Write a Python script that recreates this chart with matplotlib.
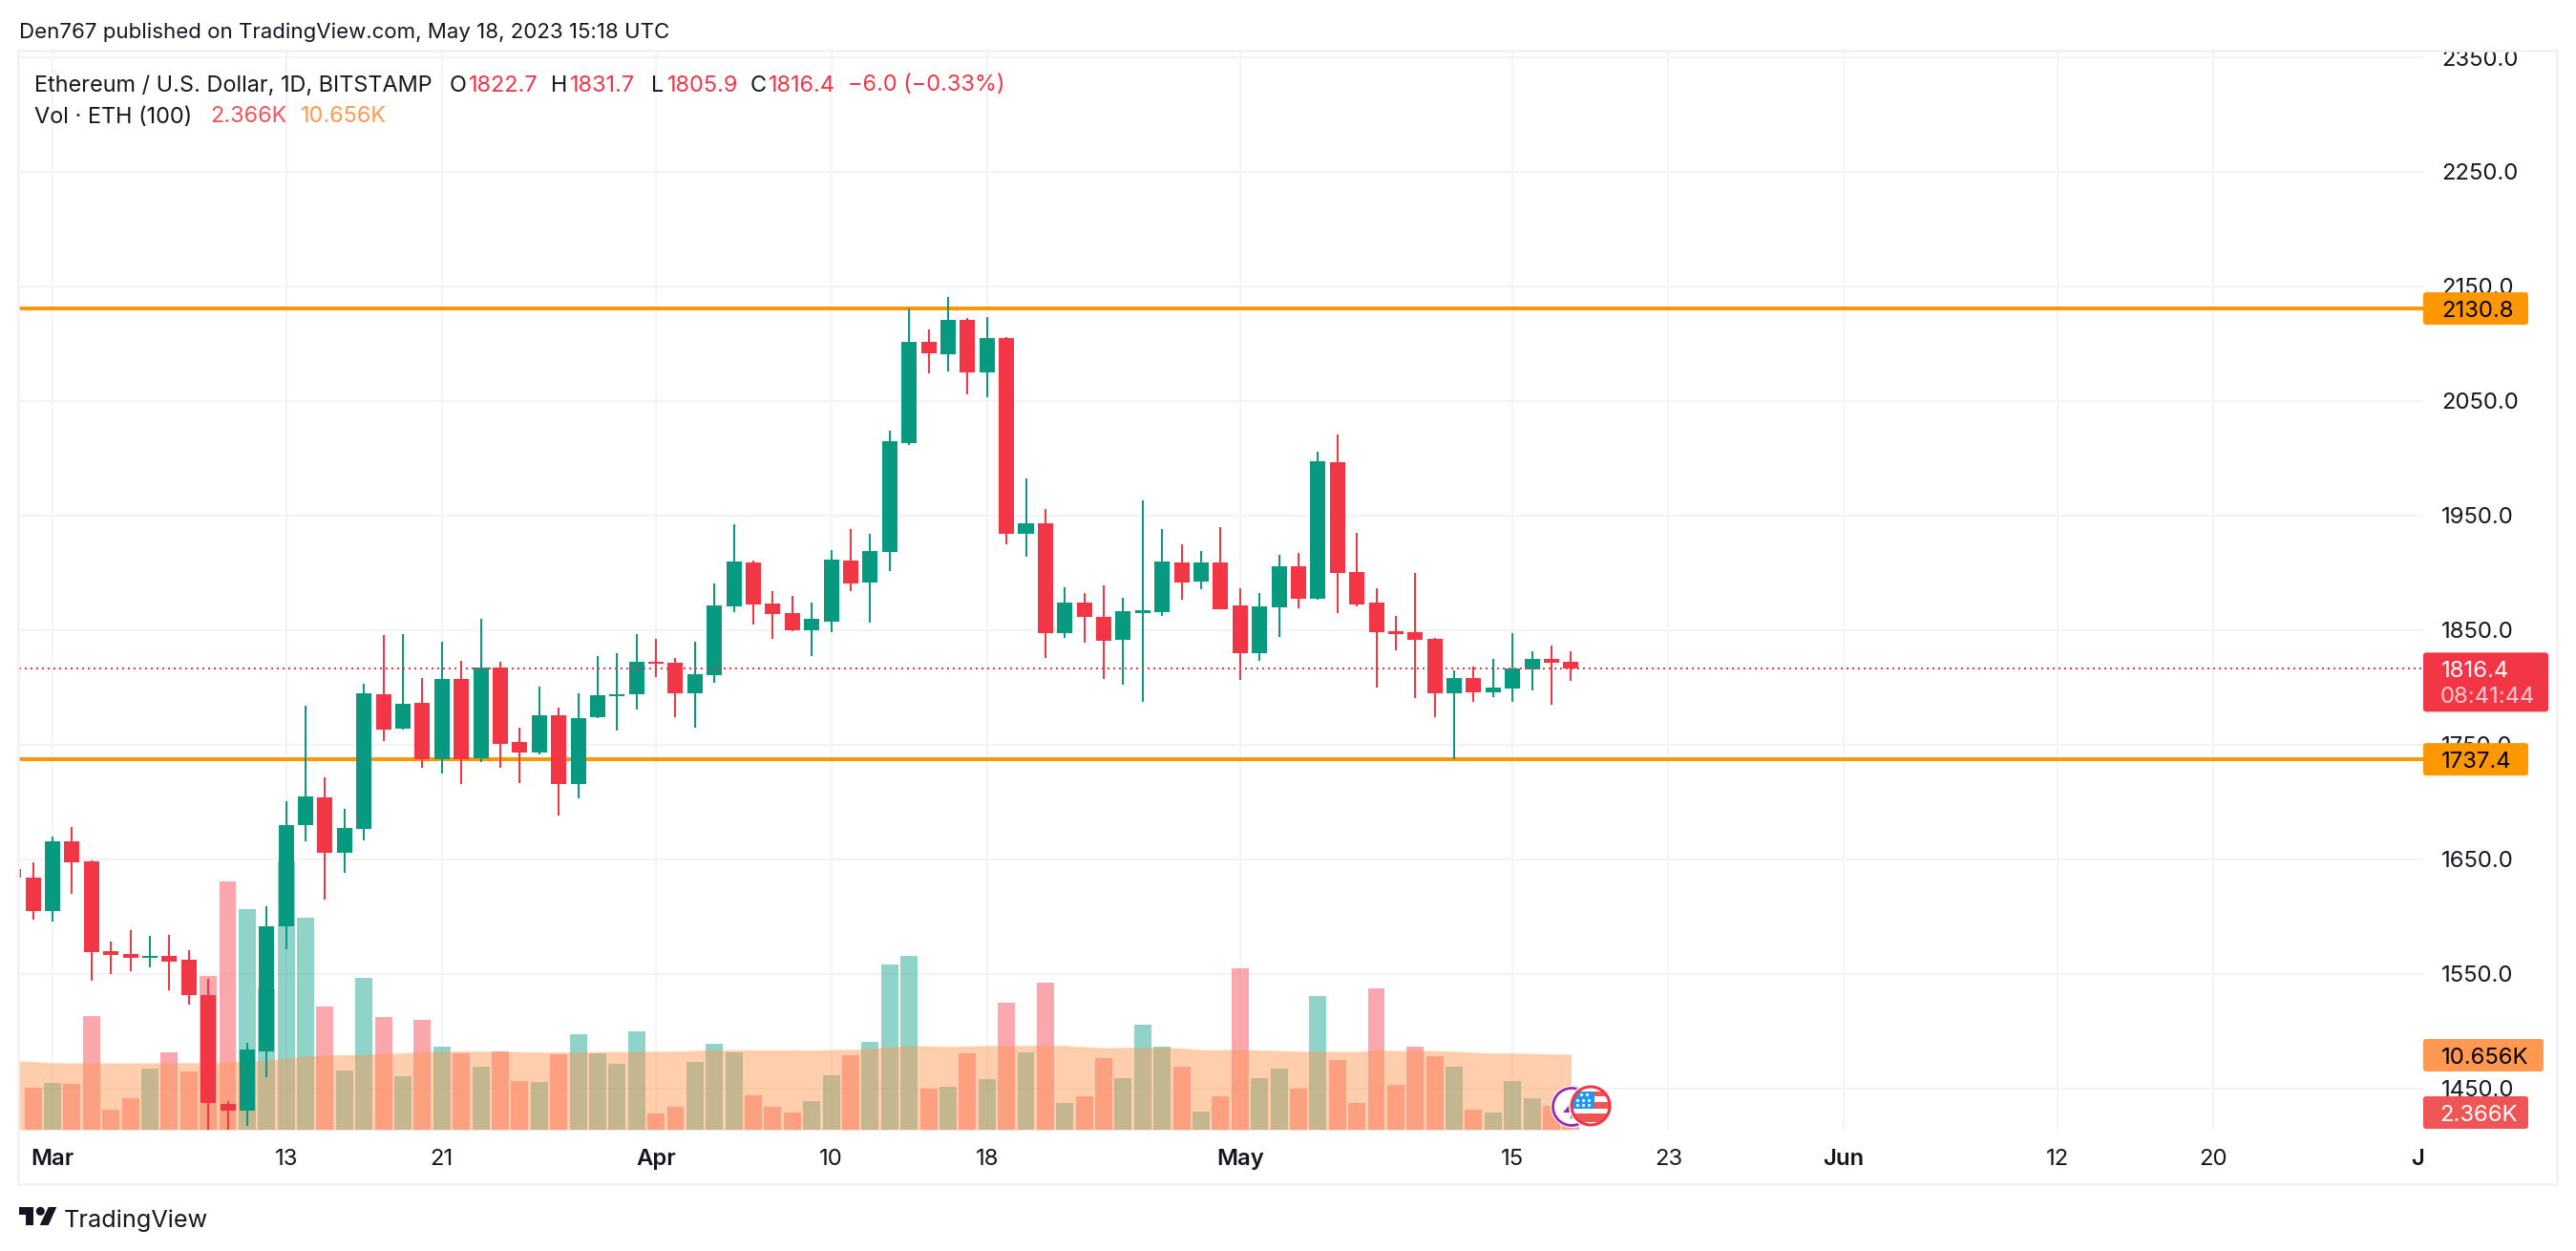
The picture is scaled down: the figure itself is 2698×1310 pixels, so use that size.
import numpy as np
import matplotlib
matplotlib.use("Agg")
import matplotlib.pyplot as plt
from matplotlib.patches import Rectangle, FancyBboxPatch, Circle, Polygon

plt.rcParams["font.family"] = ["Inter", "DejaVu Sans"]

# days since Mar 1 2023
days = np.arange(-2, 79)

opens = [1641.6, 1634.1, 1605.0, 1665.9, 1648.4, 1569.9, 1567.4, 1564.1, 1565.7, 1562.5, 1531.7,
         1436.7, 1430.9, 1482.4, 1591.7, 1679.9, 1704.2, 1655.9, 1676.6, 1794.2, 1764.2, 1786.7,
         1737.5, 1807.5, 1738.3, 1817.5, 1752.5, 1743.3, 1775.8, 1715.8, 1774.2, 1792.5, 1794.2,
         1822.5, 1821.6, 1795.0, 1810.8, 1870.8, 1909.2, 1873.3, 1865.0, 1850.0, 1857.5, 1910.8,
         1891.6, 1918.3, 2013.3, 2101.7, 2090.8, 2120.8, 2075.0, 2105.0, 1934.1, 1943.3, 1847.5,
         1874.1, 1861.6, 1841.6, 1865.3, 1865.8, 1909.1, 1892.5, 1909.1, 1871.6, 1830.0, 1870.0,
         1905.8, 1877.5, 1996.6, 1900.8, 1874.1, 1849.1, 1848.3, 1842.5, 1795.0, 1808.3, 1795.8,
         1799.1, 1815.8, 1825.0, 1822.7]
closes = [1634.1, 1605.0, 1665.9, 1647.4, 1569.3, 1566.7, 1564.1, 1565.7, 1560.9, 1531.7, 1437.4,
          1430.9, 1484.0, 1591.7, 1679.9, 1705.1, 1655.9, 1677.6, 1794.9, 1763.3, 1785.8, 1737.5,
          1807.5, 1737.5, 1817.5, 1750.8, 1743.3, 1775.8, 1715.8, 1773.3, 1793.3, 1794.2, 1822.5,
          1820.8, 1795.0, 1811.7, 1871.7, 1910.0, 1872.5, 1864.2, 1850.0, 1860.0, 1911.7, 1890.8,
          1919.1, 2015.0, 2101.7, 2091.7, 2120.8, 2075.0, 2105.0, 1934.1, 1943.3, 1847.5, 1874.1,
          1861.6, 1840.8, 1866.6, 1867.5, 1910.0, 1891.6, 1909.1, 1868.3, 1830.0, 1870.8, 1905.8,
          1877.5, 1997.5, 1900.0, 1872.5, 1848.3, 1846.6, 1841.6, 1795.0, 1808.3, 1795.8, 1800.0,
          1816.6, 1825.0, 1821.6, 1816.4]
highs = [1641.6, 1647.4, 1670.1, 1678.2, 1649.0, 1578.4, 1588.4, 1583.2, 1584.2, 1570.9, 1545.9,
         1439.3, 1489.9, 1609.2, 1700.9, 1784.2, 1721.7, 1694.1, 1803.4, 1845.8, 1846.7, 1808.3,
         1840.0, 1823.3, 1860.0, 1822.5, 1765.0, 1800.8, 1782.5, 1795.0, 1827.5, 1830.0, 1846.7,
         1842.5, 1825.8, 1840.0, 1890.8, 1942.5, 1910.8, 1884.2, 1880.0, 1874.2, 1920.0, 1938.3,
         1934.1, 2024.2, 2130.8, 2112.5, 2140.8, 2122.5, 2123.3, 2105.8, 1982.5, 1955.8, 1887.5,
         1882.5, 1889.1, 1878.3, 1963.3, 1938.3, 1925.0, 1919.1, 1940.0, 1886.6, 1882.5, 1915.8,
         1917.5, 2005.8, 2020.8, 1935.0, 1886.6, 1862.5, 1900.0, 1843.3, 1815.0, 1818.3, 1825.0,
         1847.5, 1831.6, 1836.6, 1831.7]
lows = [1634.1, 1597.5, 1595.9, 1619.9, 1544.0, 1549.8, 1552.4, 1555.7, 1535.9, 1523.3, 1413.7,
        1413.7, 1417.6, 1460.0, 1571.9, 1665.9, 1615.0, 1638.4, 1666.6, 1753.3, 1763.3, 1730.1,
        1724.9, 1715.8, 1734.6, 1730.1, 1716.8, 1741.7, 1688.3, 1703.2, 1773.3, 1762.5, 1780.8,
        1809.2, 1774.2, 1765.0, 1804.2, 1865.8, 1855.0, 1842.5, 1849.2, 1827.5, 1848.3, 1884.2,
        1856.6, 1901.6, 2011.7, 2074.2, 2075.8, 2055.8, 2053.3, 1925.0, 1914.2, 1825.8, 1843.3,
        1839.1, 1807.5, 1802.5, 1787.8, 1862.5, 1876.6, 1885.8, 1868.3, 1806.7, 1823.3, 1844.1,
        1869.1, 1876.6, 1865.0, 1870.8, 1800.0, 1832.5, 1790.8, 1774.1, 1737.4, 1787.5, 1791.6,
        1787.5, 1797.5, 1785.0, 1805.9]

# volume in thousands of ETH, the first bar is off the chart
volume = [np.nan, 6.08, 6.72, 6.61, 16.31, 2.88, 4.53, 8.79, 11.14, 8.37, 22.07,
          35.66, 31.66, 20.31, 38.54, 30.43, 17.70, 8.53, 21.80, 16.20, 7.68, 15.78,
          11.94, 10.98, 9.06, 11.25, 7.04, 6.88, 10.87, 13.75, 10.98, 9.49, 14.12,
          2.35, 3.30, 9.75, 12.37, 11.14, 4.96, 3.30, 2.51, 4.11, 7.81, 10.69,
          12.60, 23.70, 24.94, 5.89, 6.17, 10.96, 7.26, 18.22, 11.10, 21.05, 3.79,
          4.75, 10.23, 7.35, 15.03, 11.87, 9.00, 2.56, 4.75, 23.11, 7.35, 8.72,
          5.85, 19.14, 9.96, 3.79, 20.23, 6.39, 11.87, 10.50, 9.00, 2.83, 2.42,
          6.94, 4.48, 3.38, 2.366]
volume_ma = [9.70, 9.65, 9.45, 9.42, 9.42, 9.42, 9.42, 9.42, 9.43, 9.45, 9.45,
             9.55, 9.70, 9.85, 10.10, 10.40, 10.55, 10.60, 10.65, 10.75, 10.85, 11.05,
             11.10, 11.15, 11.10, 11.10, 11.05, 11.00, 10.95, 11.00, 11.05, 11.05, 11.05,
             11.10, 11.10, 11.20, 11.30, 11.30, 11.30, 11.30, 11.30, 11.25, 11.35, 11.35,
             11.50, 11.75, 11.90, 11.85, 11.80, 11.85, 11.90, 11.95, 11.95, 11.97, 11.92,
             11.74, 11.60, 11.65, 11.65, 11.65, 11.55, 11.33, 11.33, 11.37, 11.28, 11.19,
             11.10, 11.10, 11.05, 11.05, 11.28, 11.19, 11.19, 11.19, 11.10, 10.96, 10.82,
             10.82, 10.78, 10.69, 10.656]

price_ticks = [1450, 1550, 1650, 1750, 1850, 1950, 2050, 2150, 2250, 2350]
grid_days = [0, 12, 20, 31, 40, 48, 61, 75, 83, 92, 103, 111]
tick_days = grid_days + [121.5]
tick_labels = ["Mar", "13", "21", "Apr", "10", "18", "May", "15", "23", "Jun", "12", "20", "J"]
months = ["Mar", "Apr", "May", "Jun", "J"]
support = 1737.4
resistance = 2130.8
last_price = 1816.4

RED = "#F23645"
GREEN = "#089981"
ORANGE = "#FF9800"
TEXT = "#131722"
GRID = "#F3F3F3"
BORDER = "#F0F0F6"

W, H = 2698, 1310
left, right, top, bottom = 20, 2538, 53, 1183


def price_y(p):
    return 540 + (1950 - p) * 1.2


fig = plt.figure(figsize=(W / 100, H / 100), dpi=100, facecolor="white")
rect = [left / W, 1 - bottom / H, (right - left) / W, (bottom - top) / H]

ax = fig.add_axes(rect)
ax.set_xlim((left - 55) / 20.39, (right - 55) / 20.39)
ax.set_ylim(1950 - (bottom - 540) / 1.2, 1950 + (540 - top) / 1.2)

# volume sits behind the candles on its own scale
ax_vol = ax.twinx()
ax_vol.set_ylim(0, (bottom - top) * 0.137)
ax_vol.set_zorder(1)
ax.set_zorder(2)
ax.patch.set_visible(False)
ax_vol.patch.set_visible(True)
ax_vol.patch.set_facecolor("white")
ax_vol.tick_params(right=False, labelright=False)

for spine in list(ax.spines.values()) + list(ax_vol.spines.values()):
    spine.set_visible(False)

ax_vol.vlines(grid_days, 0, 1, transform=ax_vol.get_xaxis_transform(), color=GRID, lw=1.44, zorder=0)
ax_vol.hlines(price_ticks, 0, 1, transform=ax.get_yaxis_transform(), color=GRID, lw=1.44, zorder=0)

opens, closes, highs, lows = map(np.array, (opens, closes, highs, lows))
up = closes >= opens
colors = np.where(up, GREEN, RED)

vol_colors = np.where(up, "#22AB94", "#F7525F")
ax_vol.bar(days, volume, width=0.88, color=vol_colors, alpha=0.5, zorder=1)
ax_vol.fill_between(days, 0, volume_ma, color="#FF9850", alpha=0.47, lw=0, zorder=2)
ax_vol.plot(days, volume_ma, color="#FF9850", alpha=0.35, lw=1.4, zorder=3)

ax.axhline(resistance, color=ORANGE, lw=2.88, zorder=1)
ax.axhline(support, color=ORANGE, lw=2.88, zorder=1)
ax.vlines(days, lows, highs, colors=colors, lw=1.44, zorder=2)
ax.bar(days, closes - opens, bottom=opens, width=0.785, color=colors, lw=0, zorder=2.2)
ax.axhline(last_price, color=RED, lw=1.44, ls=(0, (1, 2)), dash_capstyle="butt", zorder=2.4)

ax.yaxis.tick_right()
ax.set_yticks(price_ticks)
ax.set_yticklabels([f"{p:.1f}" for p in price_ticks], color=TEXT, fontsize=17.2)
ax.tick_params(axis="y", length=0, pad=13.7)
ax.set_xticks(tick_days)
ax.set_xticklabels(tick_labels, color=TEXT, fontsize=17.2)
ax.tick_params(axis="x", length=0, pad=14.6)
for lab in ax.get_xticklabels():
    if lab.get_text() in months:
        lab.set_fontweight("semibold")

# overlay in pixel coordinates for the tags, frame, header and logo
ov = fig.add_axes([0, 0, 1, 1], zorder=5)
ov.set_xlim(0, W)
ov.set_ylim(H, 0)
ov.axis("off")
ov.add_patch(Rectangle((0, 0), W, top, color="white", lw=0, zorder=1))
ov.add_patch(Rectangle((19, top), 2678 - 19, 1240 - top, fill=False, ec=BORDER, lw=1.8, zorder=2))


def tag(y0, y1, x1, color, label, text_color, x_text=2557):
    ov.add_patch(FancyBboxPatch((right, y0), x1 - right, y1 - y0, boxstyle="round,pad=0,rounding_size=3",
                                fc=color, ec="none", zorder=3))
    ov.text(x_text, (y0 + y1) / 2, label, color=text_color, fontsize=17.2, va="center_baseline", ha="left", zorder=4)


yr = price_y(resistance)
ys = price_y(support)
yl = price_y(last_price)
tag(yr - 17, yr + 17, 2648, ORANGE, f"{resistance:.1f}", "#000000")
tag(ys - 17, ys + 17, 2648, ORANGE, f"{support:.1f}", "#000000")
tag(yl - 17, yl + 45, 2669, RED, "", "white")
ov.text(2557, yl, f"{last_price:.1f}", color="white", fontsize=17.2, va="center_baseline", zorder=4)
ov.text(2556, yl + 27.5, "08:41:44", color="#FFC9CE", fontsize=17.2, va="center_baseline", zorder=4)
tag(1088, 1122, 2664, "#FF9850", "10.656K", "#000000")
tag(1148, 1182, 2648, "#F05555", "2.366K", "white", x_text=2555)

# header
ov.text(20, 32, "Den767 published on TradingView.com, May 18, 2023 15:18 UTC", color=TEXT, fontsize=16.0,
        va="center_baseline", zorder=4)
legend_parts = [
    (36.5, "Ethereum / U.S. Dollar, 1D, BITSTAMP", TEXT), (471, "O", TEXT), (491, "1822.7", RED),
    (577, "H", TEXT), (597, "1831.7", RED), (682, "L", TEXT), (699, "1805.9", RED),
    (786, "C", TEXT), (805, "1816.4", RED), (888, "\u22126.0 (\u22120.33%)", RED),
]
for x, s, c in legend_parts:
    ov.text(x, 87, s, color=c, fontsize=16.9, va="center_baseline", zorder=4)
for x, s, c in [(36.5, "Vol \u00b7 ETH (100)", TEXT), (220, "2.366K", "#F05555"), (315, "10.656K", "#FF9850")]:
    ov.text(x, 120, s, color=c, fontsize=16.9, va="center_baseline", zorder=4)

# TradingView logo
ov.add_patch(Polygon([(20, 1264), (35.3, 1264), (35.3, 1283), (26.7, 1283), (26.7, 1272), (20, 1272)], color=TEXT, lw=0))
ov.add_patch(Circle((42.3, 1268.3), 4.5, color=TEXT, lw=0))
ov.add_patch(Polygon([(50.7, 1264), (59.3, 1264), (50.7, 1283), (41.7, 1283)], color=TEXT, lw=0))
ov.text(67, 1275.5, "TradingView", color=TEXT, fontsize=18.2, va="center_baseline", zorder=4)

# event badges at the last bar
ov.add_patch(Circle((1646, 1159), 22, fc="white", ec="none", zorder=5))
ov.add_patch(Circle((1646, 1159), 19.5, fc="white", ec="#9C27B0", lw=2, zorder=5))
ov.add_patch(Polygon([(1647, 1153), (1649, 1163), (1656, 1160), (1645, 1172), (1645, 1165), (1637, 1165)],
                     color="#9C27B0", lw=0, zorder=5))
ov.add_patch(Circle((1666, 1158), 23, fc="white", ec="none", zorder=6))
badge = Circle((1666, 1158), 20, fc="white", ec="none", zorder=6)
ov.add_patch(badge)
for y0, y1, x0 in [(1143, 1148, 1670), (1154, 1161, 1670), (1166, 1175, 1645)]:
    stripe = Rectangle((x0, y0), 1690 - x0, y1 - y0, color="#F05555", lw=0, zorder=6.1)
    ov.add_patch(stripe)
    stripe.set_clip_path(badge)
canton = Rectangle((1645, 1143), 25, 18, color="#2196F3", lw=0, zorder=6.2)
ov.add_patch(canton)
canton.set_clip_path(badge)
ov.scatter([1656, 1662, 1652, 1658, 1664, 1652, 1658, 1664], [1146, 1146, 1152, 1152, 1152, 1157, 1157, 1157],
           s=5, color="white", lw=0, zorder=6.3)
ov.add_patch(Circle((1666, 1158), 20, fc="none", ec=RED, lw=2.2, zorder=6.4))

fig.savefig("out.png", dpi=100)
